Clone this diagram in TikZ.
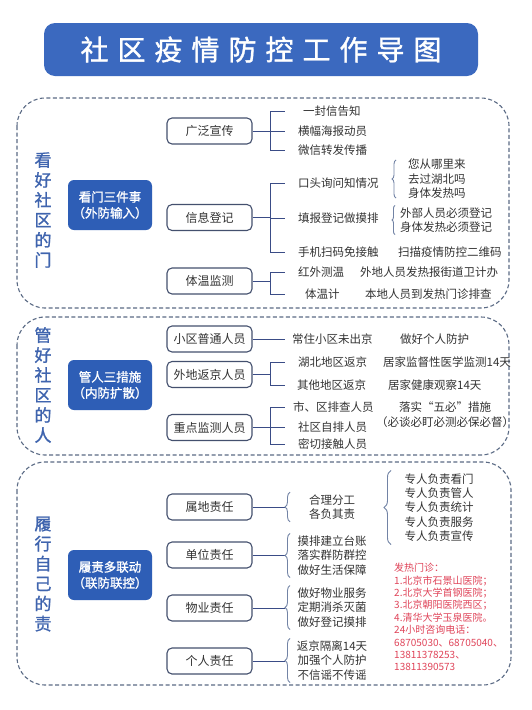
\documentclass[tikz,border=0pt]{standalone}
\usepackage{fontspec}
\setmainfont{Noto Sans CJK SC}
\newfontfamily\boldcjk[FakeBold=1.2]{Noto Sans CJK SC}
\usetikzlibrary{decorations.pathreplacing,calc}
\definecolor{titlec}{HTML}{3B69BF}
\definecolor{bboxc}{HTML}{2E5EB6}
\definecolor{vblue}{HTML}{3F64AE}
\definecolor{dashc}{HTML}{5B6B85}
\definecolor{boxdraw}{HTML}{44506E}
\definecolor{connc}{HTML}{3A4C86}
\definecolor{bracec}{HTML}{7283A5}
\definecolor{txt}{HTML}{333333}
\definecolor{redc}{HTML}{E0455A}
\tikzset{
  titlebox/.style={fill=titlec, rounded corners=11pt, minimum width=434pt, minimum height=53pt, text=white, inner sep=0pt, font=\boldcjk\fontsize{28}{30}\selectfont},
  sect/.style={draw=dashc, line width=1.1pt, dash pattern=on 4pt off 2.5pt, rounded corners=28pt},
  vert/.style={text=vblue, align=center, font=\boldcjk\fontsize{17}{20}\selectfont},
  bbox/.style={fill=bboxc, rounded corners=6pt, minimum width=84pt, minimum height=50pt, text=white, align=center, font=\boldcjk\fontsize{12.5}{16}\selectfont},
  mbox/.style={draw=boxdraw, line width=1.1pt, rounded corners=5pt, fill=white, minimum width=85pt, minimum height=26pt, text=txt, font=\fontsize{12}{14}\selectfont},
  item/.style={anchor=west, inner sep=2pt, text=txt, font=\fontsize{11.5}{14.5}\selectfont},
  grp/.style={inner sep=2pt, text=txt, align=center, font=\fontsize{11.5}{14.5}\selectfont},
  conn/.style={draw=connc, line width=1pt},
  brc/.style={draw=bracec, line width=0.9pt, decorate, decoration={brace, amplitude=#1}},
  brc/.default=5pt,
  redtext/.style={anchor=north west, inner sep=0pt, text=redc, align=left, font=\fontsize{10}{12.4}\selectfont}
}
\newcommand{\tg}{\hspace{9pt}}
\begin{document}
\begin{tikzpicture}[x=1pt,y=-1pt]
\useasboundingbox (0,0) rectangle (532,710);
\fill[white] (0,0) rectangle (532,710);

% title
\node[titlebox] (title) at (261,49.5) {社\tg 区\tg 疫\tg 情\tg 防\tg 控\tg 工\tg 作\tg 导\tg 图};

% section frames
\draw[sect] (17,98) rectangle (509,308);
\draw[sect] (17,317) rectangle (509,455);
\draw[sect] (17,462) rectangle (511,685);

\coordinate (bx) at (270,0);
\coordinate (sx) at (285,0);
\coordinate (tx) at (285,0);
\coordinate (bz) at (290,0);

% ===== Section 1 =====
\node[vert] (v1) at (43,210) {看\\好\\社\\区\\的\\门};
\node[bbox] (k1) at (110,205) {看门三件事\\（外防输入）};
\node[mbox] (b11) at (209.5,131) {广泛宣传};
\node[mbox] (b12) at (209.5,217.5) {信息登记};
\node[mbox] (b13) at (209.5,281) {体温监测};

\node[item] (i11) at (301,111) {一封信告知};
\node[item] (i12) at (296,131) {横幅海报动员};
\node[item] (i13) at (296,150) {微信转发传播};

\node[item] (i14) at (296,183) {口头询问知情况};
\node[item] (i15) at (296,218) {填报登记做摸排};
\node[item] (i16) at (296,252) {手机扫码免接触};

\node[item] (i17) at (296,272) {红外测温};
\node[item] (i18) at (303,294) {体温计};

\node[grp, anchor=west] (q1) at (406,179) {您从哪里来\\去过湖北吗\\身体发热吗};
\node[grp, anchor=west, font=\fontsize{11.5}{14}\selectfont] (q2) at (398,220) {外部人员必须登记\\身体发热必须登记};
\node[item] (q3) at (396,252) {扫描疫情防控二维码};
\node[item] (q4) at (358,272) {外地人员发热报街道卫计办};
\node[item] (q5) at (363,294) {本地人员到发热门诊排查};

\draw[conn] (b11.east) -- (b11.east -| bx);
\draw[conn] (bx |- i11.west) -- (bx |- i13.west);
\foreach \n in {i11,i12,i13} \draw[conn] (bx |- \n.west) -- (sx |- \n.west);

\draw[conn] (b12.east) -- (b12.east -| bx);
\draw[conn] (bx |- i14.west) -- (bx |- i16.west);
\foreach \n in {i14,i15,i16} \draw[conn] (bx |- \n.west) -- (sx |- \n.west);

\draw[conn] (b13.east) -- (b13.east -| bx);
\draw[conn] (bx |- i17.west) -- (bx |- i18.west);
\foreach \n in {i17,i18} \draw[conn] (bx |- \n.west) -- (sx |- \n.west);

\coordinate (qb) at (396,0);
\draw[brc=4pt] ([yshift=3pt]qb |- q1.south) -- ([yshift=-3pt]qb |- q1.north);
\coordinate (qc) at (395,0);
\draw[brc=3pt] (qc |- q2.south) -- (qc |- q2.north);

% ===== Section 2 =====
\node[vert] (v2) at (43,385) {管\\好\\社\\区\\的\\人};
\node[bbox] (k2) at (110,385) {管人三措施\\（内防扩散）};
\node[mbox] (b21) at (209.5,339) {小区普通人员};
\node[mbox] (b22) at (209.5,374.5) {外地返京人员};
\node[mbox] (b23) at (209.5,427.5) {重点监测人员};

\node[item] (j21) at (290,339) {常住小区未出京};
\node[item] (p21) at (398,339) {做好个人防护};
\node[item] (j22) at (296,362) {湖北地区返京};
\node[item] (j23) at (295,385) {其他地区返京};
\node[item] (p22) at (381,362) {居家监督性医学监测14天};
\node[item] (p23) at (386,385) {居家健康观察14天};
\node[item] (j24) at (291,407) {市、区排查人员};
\node[item] (j25) at (296,427) {社区自排人员};
\node[item] (j26) at (296,444) {密切接触人员};
\node[grp] (p24) at (445,414.5) {落实“五必”措施\\（必谈必盯必测必保必督）};

\draw[conn] (b21.east) -- (sx |- j21.west);

\draw[conn] (b22.east) -- (b22.east -| bx);
\draw[conn] (bx |- j22.west) -- (bx |- j23.west);
\foreach \n in {j22,j23} \draw[conn] (bx |- \n.west) -- (sx |- \n.west);

\draw[conn] (b23.east) -- (b23.east -| bx);
\draw[conn] (bx |- j24.west) -- (bx |- j26.west);
\foreach \n in {j24,j25,j26} \draw[conn] (bx |- \n.west) -- (sx |- \n.west);

% ===== Section 3 =====
\node[vert] (v3) at (43,574) {履\\行\\自\\己\\的\\责};
\node[bbox] (k3) at (110,575) {履责多联动\\（联防联控）};
\node[mbox] (b31) at (209.5,507) {属地责任};
\node[mbox] (b32) at (209.5,555) {单位责任};
\node[mbox] (b33) at (209.5,608) {物业责任};
\node[mbox] (b34) at (209.5,661) {个人责任};

\node[grp] (g31) at (332,507) {合理分工\\各负其责};
\node[grp] (g32) at (332,555.5) {摸排建立台账\\落实群防群控\\做好生活保障};
\node[grp] (g33) at (332,607.5) {做好物业服务\\定期消杀灭菌\\做好登记摸排};
\node[grp] (g34) at (332,660.5) {返京隔离14天\\加强个人防护\\不信谣不传谣};
\node[grp, font=\fontsize{11.5}{14.3}\selectfont] (g35) at (439,507.5) {专人负责看门\\专人负责管人\\专人负责统计\\专人负责服务\\专人负责宣传};

\foreach \b/\g in {b31/g31,b32/g32,b33/g33,b34/g34} {
  \draw[conn] (\b.east) -- (\b.east -| tx);
  \draw[brc] (bz |- \g.south) -- (bz |- \g.north);
}
\coordinate (bg) at (391,0);
\draw[brc=7pt] ([yshift=-1pt]bg |- g35.south) -- ([yshift=1pt]bg |- g35.north);

\node[redtext] (red) at (394,563) {发热门诊：\\1.北京市石景山医院；\\2.北京大学首钢医院；\\3.北京朝阳医院西区；\\4.清华大学玉泉医院。\\24小时咨询电话：\\68705030、68705040、\\13811378253、\\13811390573};
\end{tikzpicture}
\end{document}
